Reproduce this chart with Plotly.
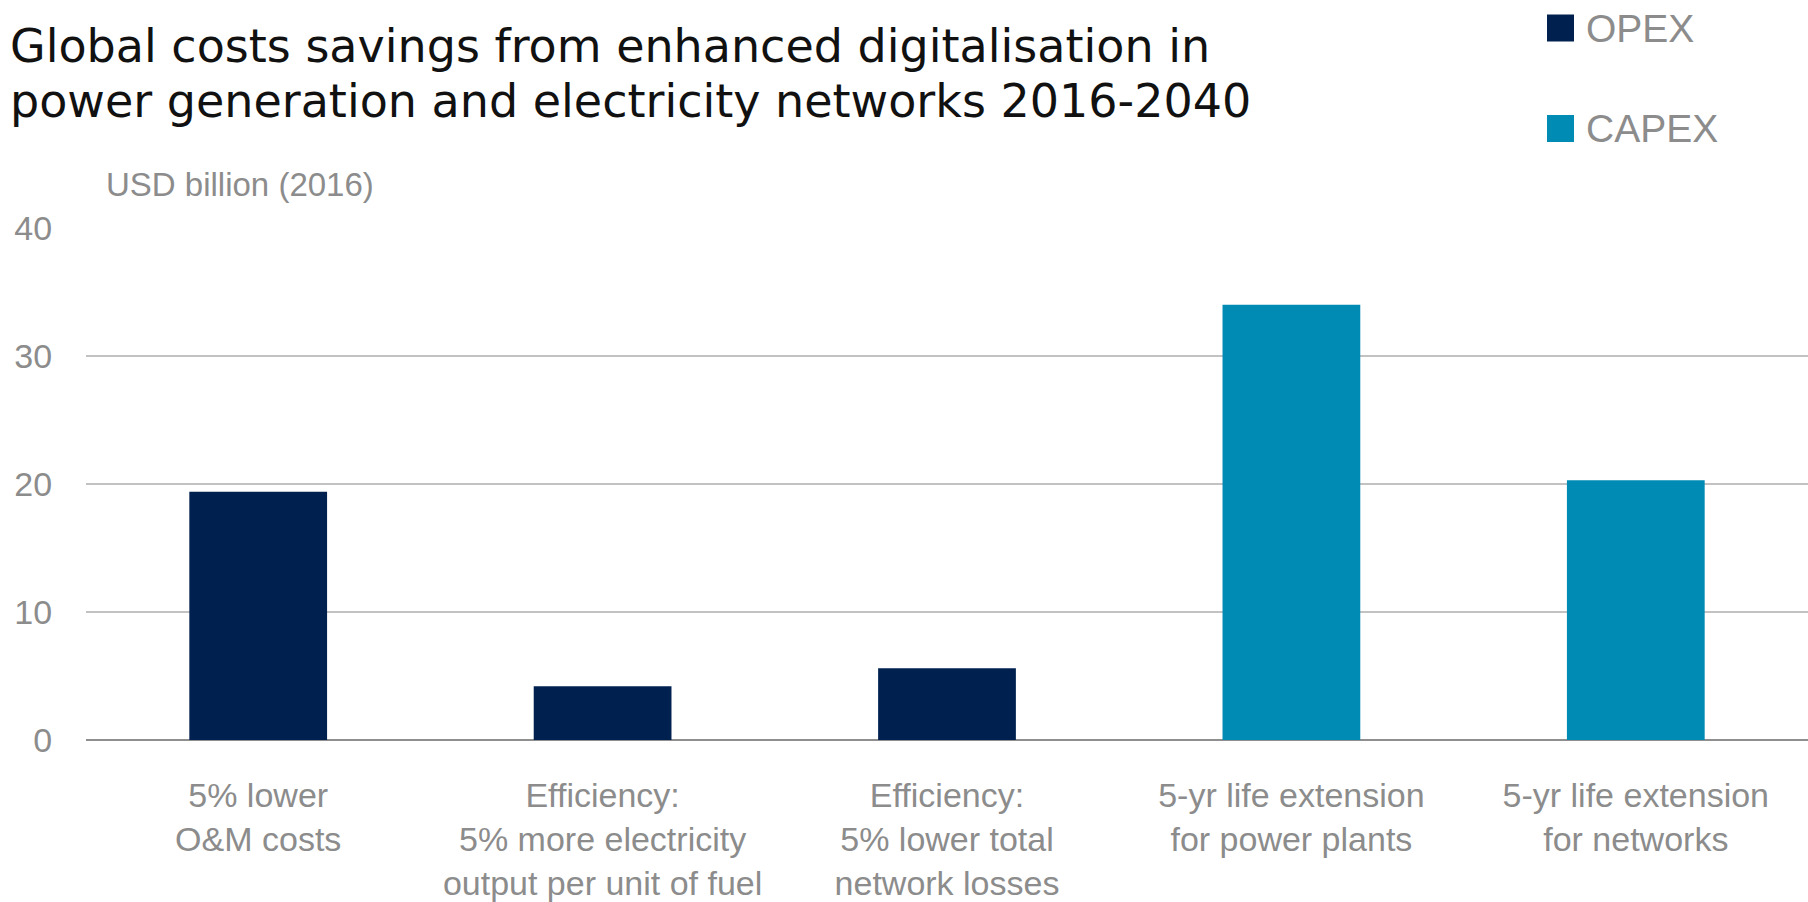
import plotly.graph_objects as go

categories = [
    "5% lower<br>O&M costs",
    "Efficiency:<br>5% more electricity<br>output per unit of fuel",
    "Efficiency:<br>5% lower total<br>network losses",
    "5-yr life extension<br>for power plants",
    "5-yr life extension<br>for networks",
]
opex_values = [19.4, 4.2, 5.6, None, None]
capex_values = [None, None, None, 34.0, 20.3]
y_ticks = [0, 10, 20, 30, 40]
title_lines = [
    "Global costs savings from enhanced digitalisation in",
    "power generation and electricity networks 2016-2040",
]
series_names = ["OPEX", "CAPEX"]

OPEX_COLOR = "#00214f"
CAPEX_COLOR = "#008bb5"
GRAY = "#8c8c8c"

W, H = 1808, 902
L, R, T, B = 86, 0, 228, 162
PW, PH = W - L - R, H - T - B


def px_x(px):
    return (px - L) / PW


def px_y(py):
    return (H - B - py) / PH


fig = go.Figure()
fig.add_trace(go.Bar(x=categories, y=opex_values, name=series_names[0],
                     marker=dict(color=OPEX_COLOR, line=dict(width=0)),
                     showlegend=False))
fig.add_trace(go.Bar(x=categories, y=capex_values, name=series_names[1],
                     marker=dict(color=CAPEX_COLOR, line=dict(width=0)),
                     showlegend=False))

fig.update_layout(
    width=W, height=H,
    margin=dict(l=L, r=R, t=T, b=B),
    plot_bgcolor="white", paper_bgcolor="white",
    barmode="overlay", bargap=0.6,
    font=dict(family="Liberation Sans, Arial, sans-serif", color=GRAY),
    showlegend=False,
)

fig.update_yaxes(
    range=[0, 40], tickvals=y_ticks,
    showgrid=True, gridcolor="#c2c2c2", gridwidth=2,
    zeroline=True, zerolinecolor="#8f8f8f", zerolinewidth=2,
    ticks="outside", ticklen=26, tickcolor="rgba(0,0,0,0)",
    tickfont=dict(size=34, color=GRAY),
    showline=False,
)
fig.update_xaxes(
    ticks="outside", ticklen=25, tickcolor="rgba(0,0,0,0)",
    tickfont=dict(size=34, color=GRAY),
    showline=False, showgrid=False,
)

# title (two lines, custom spacing)
for line, cy in zip(title_lines, [45.5, 100.5]):
    fig.add_annotation(
        text=line, xref="paper", yref="paper",
        x=px_x(8), y=px_y(cy), xanchor="left", yanchor="middle",
        showarrow=False,
        font=dict(family="DejaVu Sans, sans-serif", size=46, color="#111111"),
    )

# y-axis unit label
fig.add_annotation(
    text="USD billion (2016)", xref="paper", yref="paper",
    x=px_x(104), y=px_y(184),
    xanchor="left", yanchor="middle", showarrow=False,
    font=dict(size=33, color=GRAY),
)

# legend
for name, color, cy in zip(series_names, [OPEX_COLOR, CAPEX_COLOR], [28, 128.5]):
    fig.add_shape(type="rect", xref="paper", yref="paper",
                  x0=px_x(1547), x1=px_x(1574),
                  y0=px_y(cy - 13.5), y1=px_y(cy + 13.5),
                  fillcolor=color, line=dict(width=0))
    fig.add_annotation(
        text=name, xref="paper", yref="paper",
        x=px_x(1584), y=px_y(cy), xanchor="left", yanchor="middle",
        showarrow=False, font=dict(size=39, color=GRAY),
    )

fig.write_html("out.html")
